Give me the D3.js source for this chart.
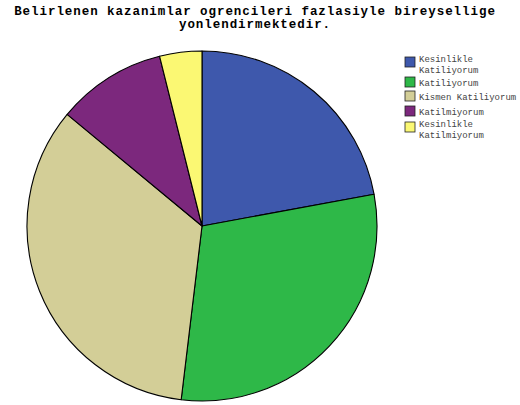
<!DOCTYPE html>
<html>
<head>
<meta charset="utf-8">
<script src="https://cdn.jsdelivr.net/npm/d3@7"></script>
<style>
  body { margin: 0; background: #fff; }
  svg { display: block; }
</style>
</head>
<body>
<div class="chart"></div>
<script>
const title = ["Belirlenen kazanimlar ogrencileri fazlasiyle bireysellige", "yonlendirmektedir."];
const categories = ["Kesinlikle Katiliyorum", "Katiliyorum", "Kismen Katiliyorum", "Katilmiyorum", "Kesinlikle Katilmiyorum"];
const legendLines = [["Kesinlikle", "Katiliyorum"], ["Katiliyorum"], ["Kismen Katiliyorum"], ["Katilmiyorum"], ["Kesinlikle", "Katilmiyorum"]];
const values = [22.1, 29.8, 34.1, 10.1, 3.9];
const colors = ["#3e58ac", "#2eb848", "#d3ce97", "#7c287d", "#fbf873"];

const w = 520;
const h = 405;
const cx = 202;
const cy = 226;
const r = 175;

const svg = d3.select(".chart")
    .append("svg")
    .attr("width", w)
    .attr("height", h);

svg.selectAll("text.title")
    .data(title)
    .enter()
    .append("text")
    .attr("class", "title")
    .attr("x", 255)
    .attr("y", (d, i) => 15 + i * 12.5)
    .attr("text-anchor", "middle")
    .style("font-family", "'Liberation Mono', 'Courier New', monospace")
    .style("font-weight", "bold")
    .style("font-size", "12.5px")
    .style("letter-spacing", "0.95px")
    .text(d => d);

const pie = d3.pie().sort(null).value(d => d);
const arc = d3.arc().innerRadius(0).outerRadius(r);

svg.append("g")
    .attr("transform", `translate(${cx}, ${cy})`)
    .selectAll("path")
    .data(pie(values))
    .enter()
    .append("path")
    .attr("d", arc)
    .attr("fill", (d, i) => colors[i])
    .attr("stroke", "#000")
    .attr("stroke-width", 1.1)
    .attr("stroke-linejoin", "round");

// legend rows (swatch top)
const legendY = [57, 77, 91, 106, 122];

const legend = svg.append("g")
    .selectAll("g")
    .data(categories)
    .enter()
    .append("g")
    .attr("transform", (d, i) => `translate(405, ${legendY[i]})`);

legend.append("rect")
    .attr("width", 10)
    .attr("height", 10)
    .attr("fill", (d, i) => colors[i])
    .attr("stroke", "#222")
    .attr("stroke-width", 0.8);

legend.each(function (d, i) {
    const lines = legendLines[i];
    d3.select(this).selectAll("text")
        .data(lines)
        .enter()
        .append("text")
        .attr("x", 14)
        .attr("y", (t, j) => (lines.length > 1 ? 5 : 8.5) + j * 10.5)
        .style("font-family", "'Liberation Mono', 'Courier New', monospace")
        .style("font-size", "9px")
        .style("fill", "#444")
        .text(t => t);
});
</script>
</body>
</html>
